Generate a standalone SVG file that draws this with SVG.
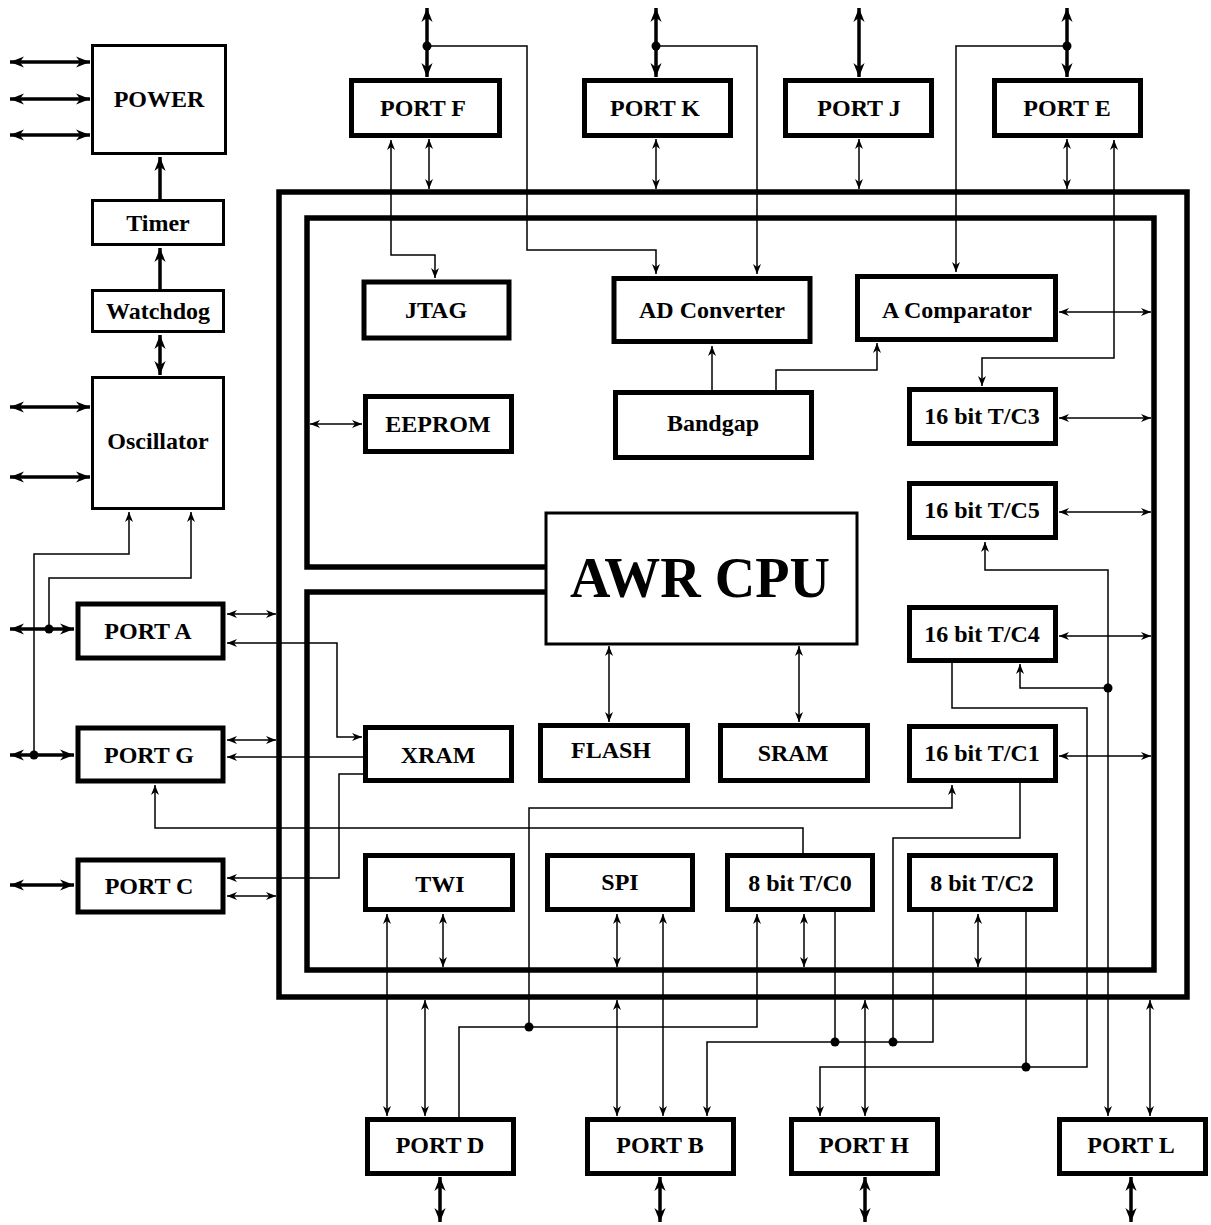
<svg xmlns="http://www.w3.org/2000/svg" width="1211" height="1225" viewBox="0 0 1211 1225">
<defs>
<style>
.bx{fill:#fff;stroke:#000;stroke-width:5}
.bt{fill:#fff;stroke:#000;stroke-width:3}
.t{font-family:"Liberation Serif","Times New Roman",serif;font-weight:bold;font-size:24px;text-anchor:middle;fill:#000}
.c{fill:none;stroke:#000;stroke-width:1.5}
.ca{fill:none;stroke:#000;stroke-width:1.5;marker-end:url(#at)}
.cb{fill:none;stroke:#000;stroke-width:1.5;marker-start:url(#at);marker-end:url(#at)}
.k{fill:none;stroke:#000;stroke-width:3.5;marker-start:url(#ak);marker-end:url(#ak)}
.ke{fill:none;stroke:#000;stroke-width:3.5;marker-end:url(#ak)}
.bus{fill:none;stroke:#000;stroke-width:5.5}
</style>
<marker id="at" viewBox="0 0 10 8" refX="10" refY="4" markerWidth="10" markerHeight="8.5" markerUnits="userSpaceOnUse" orient="auto-start-reverse"><path d="M0,0 L10,4 L0,8 L3,4 z" fill="#000"/></marker>
<marker id="ak" viewBox="0 0 10 8" refX="10" refY="4" markerWidth="14" markerHeight="12" markerUnits="userSpaceOnUse" orient="auto-start-reverse"><path d="M0,0 L10,4 L0,8 L3,4 z" fill="#000"/></marker>
</defs>
<rect width="1211" height="1225" fill="#fff"/>
<g id="buses">
<rect class="bus" x="279" y="192" width="908" height="805"/>
<path class="bus" d="M546,567 H307 V218 H1154 V970 H307 V592 H546"/>
</g>
<g id="connectors">
<line class="k" x1="10" y1="62" x2="90" y2="62"/>
<line class="k" x1="10" y1="99" x2="90" y2="99"/>
<line class="k" x1="10" y1="135" x2="90" y2="135"/>
<line class="k" x1="10" y1="407" x2="90" y2="407"/>
<line class="k" x1="10" y1="477" x2="90" y2="477"/>
<line class="ke" x1="160" y1="199" x2="160" y2="157"/>
<line class="ke" x1="160" y1="289" x2="160" y2="248"/>
<line class="k" x1="160" y1="335" x2="160" y2="375"/>
<line class="k" x1="10" y1="629" x2="74" y2="629"/>
<line class="k" x1="10" y1="755" x2="74" y2="755"/>
<line class="k" x1="10" y1="885" x2="74" y2="885"/>
<line class="k" x1="427" y1="8" x2="427" y2="77"/>
<line class="k" x1="656" y1="8" x2="656" y2="77"/>
<line class="k" x1="859" y1="8" x2="859" y2="77"/>
<line class="k" x1="1067" y1="8" x2="1067" y2="77"/>
<line class="k" x1="440" y1="1177" x2="440" y2="1222"/>
<line class="k" x1="660" y1="1177" x2="660" y2="1222"/>
<line class="k" x1="865" y1="1177" x2="865" y2="1222"/>
<line class="k" x1="1131" y1="1177" x2="1131" y2="1222"/>
<circle cx="49" cy="629" r="4.5"/>
<circle cx="34" cy="755" r="4.5"/>
<circle cx="427" cy="46" r="4.5"/>
<circle cx="656" cy="46" r="4.5"/>
<circle cx="1067" cy="46" r="4.5"/>
<path class="ca" d="M34,755 V554 H129 V512"/>
<path class="ca" d="M49,629 V578 H191 V512"/>
<line class="cb" x1="227" y1="614" x2="276" y2="614"/>
<line class="cb" x1="227" y1="740" x2="276" y2="740"/>
<line class="cb" x1="227" y1="896" x2="276" y2="896"/>
<line class="cb" x1="310" y1="424" x2="362" y2="424"/>
<line class="cb" x1="1059" y1="312" x2="1151" y2="312"/>
<line class="cb" x1="1059" y1="418" x2="1151" y2="418"/>
<line class="cb" x1="1059" y1="512" x2="1151" y2="512"/>
<line class="cb" x1="1059" y1="636" x2="1151" y2="636"/>
<line class="cb" x1="1059" y1="756" x2="1151" y2="756"/>
<line class="cb" x1="429" y1="139" x2="429" y2="189"/>
<line class="cb" x1="656" y1="139" x2="656" y2="189"/>
<line class="cb" x1="859" y1="139" x2="859" y2="189"/>
<line class="cb" x1="1067" y1="139" x2="1067" y2="189"/>
<line class="cb" x1="443" y1="914" x2="443" y2="967"/>
<line class="cb" x1="617" y1="914" x2="617" y2="967"/>
<line class="cb" x1="804" y1="914" x2="804" y2="967"/>
<line class="cb" x1="978" y1="914" x2="978" y2="967"/>
<line class="cb" x1="425" y1="1000" x2="425" y2="1116"/>
<line class="cb" x1="617" y1="1000" x2="617" y2="1116"/>
<line class="cb" x1="865" y1="1000" x2="865" y2="1116"/>
<line class="cb" x1="1150" y1="1000" x2="1150" y2="1116"/>
<line class="cb" x1="609" y1="646" x2="609" y2="722"/>
<line class="cb" x1="799" y1="646" x2="799" y2="722"/>
<path class="ca" d="M427,46 H527 V250 H656 V274"/>
<path class="ca" d="M656,46 H757 V274"/>
<path class="ca" d="M1067,46 H956 V272"/>
<path class="cb" d="M391,140 V255 H435 V278"/>
<path class="cb" d="M1114,140 V358 H982 V386"/>
<line class="ca" x1="712" y1="390" x2="712" y2="346"/>
<path class="ca" d="M776,390 V370 H877 V343"/>
<path class="cb" d="M985,542 V570 H1108 V1116"/>
<path class="ca" d="M1108,688 H1020 V664"/>
<circle cx="1108" cy="688" r="4.5"/>
<path class="ca" d="M952,662 V708 H1087 V1067 H820 V1116"/>
<line class="c" x1="1026" y1="912" x2="1026" y2="1067"/>
<circle cx="1026" cy="1067" r="4.5"/>
<path class="ca" d="M1020,783 V838 H893 V1042 H707 V1116"/>
<path class="c" d="M933,912 V1042 H893"/>
<line class="c" x1="835" y1="912" x2="835" y2="1042"/>
<circle cx="893" cy="1042" r="4.5"/>
<circle cx="835" cy="1042" r="4.5"/>
<path class="ca" d="M459,1118 V1027 H757 V914"/>
<path class="ca" d="M529,1027 V808 H952 V785"/>
<circle cx="529" cy="1027" r="4.5"/>
<path class="ca" d="M803,853 V828 H155 V785"/>
<path class="cb" d="M227,643 H337 V737 H362"/>
<line class="ca" x1="364" y1="757" x2="227" y2="757"/>
<path class="ca" d="M364,774 H339 V878 H227"/>
<line class="cb" x1="387" y1="914" x2="387" y2="1116"/>
<line class="cb" x1="663" y1="914" x2="663" y2="1116"/>
</g>
<g id="power"><rect class="bt" x="92.5" y="45.5" width="133" height="108"/><text class="t" x="159" y="107">POWER</text></g>
<g id="timer"><rect class="bt" x="92.5" y="200.5" width="131" height="44"/><text class="t" x="158" y="231">Timer</text></g>
<g id="watchdog"><rect class="bt" x="92.5" y="290.5" width="131" height="41"/><text class="t" x="158" y="319">Watchdog</text></g>
<g id="oscillator"><rect class="bt" x="92.5" y="377.5" width="131" height="131"/><text class="t" x="158" y="449">Oscillator</text></g>
<g id="portA"><rect class="bx" x="78" y="604" width="145" height="54"/><text class="t" x="148" y="639">PORT A</text></g>
<g id="portG"><rect class="bx" x="78" y="728" width="145" height="53"/><text class="t" x="149" y="763">PORT G</text></g>
<g id="portC"><rect class="bx" x="78" y="860" width="145" height="52"/><text class="t" x="149" y="894">PORT C</text></g>
<g id="portF"><rect class="bx" x="351.5" y="80.5" width="148" height="55"/><text class="t" x="423" y="116">PORT F</text></g>
<g id="portK"><rect class="bx" x="584.5" y="80.5" width="146" height="55"/><text class="t" x="655" y="116">PORT K</text></g>
<g id="portJ"><rect class="bx" x="785.5" y="80.5" width="146" height="55"/><text class="t" x="859" y="116">PORT J</text></g>
<g id="portE"><rect class="bx" x="994.5" y="80.5" width="146" height="55"/><text class="t" x="1067" y="116">PORT E</text></g>
<g id="jtag"><rect class="bx" x="364" y="282" width="145" height="56"/><text class="t" x="436" y="318">JTAG</text></g>
<g id="adc"><rect class="bx" x="614" y="278.5" width="196" height="63"/><text class="t" x="712" y="318">AD Converter</text></g>
<g id="acomp"><rect class="bx" x="857.5" y="276.5" width="198" height="63"/><text class="t" x="957" y="318">A Comparator</text></g>
<g id="eeprom"><rect class="bx" x="365.5" y="396.5" width="146" height="55"/><text class="t" x="438" y="432">EEPROM</text></g>
<g id="bandgap"><rect class="bx" x="615.5" y="392.5" width="196" height="65"/><text class="t" x="713" y="431">Bandgap</text></g>
<g id="tc3"><rect class="bx" x="909.5" y="389.5" width="146" height="54"/><text class="t" x="982" y="424">16 bit T/C3</text></g>
<g id="tc5"><rect class="bx" x="909.5" y="483.5" width="146" height="54"/><text class="t" x="982" y="518">16 bit T/C5</text></g>
<g id="tc4"><rect class="bx" x="909.5" y="607.5" width="146" height="53"/><text class="t" x="982" y="642">16 bit T/C4</text></g>
<g id="tc1"><rect class="bx" x="909.5" y="726.5" width="146" height="54"/><text class="t" x="982" y="761">16 bit T/C1</text></g>
<g id="tc2"><rect class="bx" x="909.5" y="855.5" width="146" height="54"/><text class="t" x="982" y="891">8 bit T/C2</text></g>
<g id="cpu"><rect class="bt" x="546" y="513" width="311" height="131"/><text class="t" x="700" y="597" style="font-size:56px">AWR CPU</text></g>
<g id="xram"><rect class="bx" x="365.5" y="727.5" width="146" height="53"/><text class="t" x="438" y="763">XRAM</text></g>
<g id="flash"><rect class="bx" x="540.5" y="725.5" width="147" height="55"/><text class="t" x="611" y="758">FLASH</text></g>
<g id="sram"><rect class="bx" x="720.5" y="725.5" width="147" height="55"/><text class="t" x="793" y="761">SRAM</text></g>
<g id="twi"><rect class="bx" x="365.5" y="855.5" width="147" height="54"/><text class="t" x="440" y="892">TWI</text></g>
<g id="spi"><rect class="bx" x="547.5" y="855.5" width="145" height="54"/><text class="t" x="620" y="890">SPI</text></g>
<g id="tc0"><rect class="bx" x="727.5" y="855.5" width="145" height="54"/><text class="t" x="800" y="891">8 bit T/C0</text></g>
<g id="portD"><rect class="bx" x="367.5" y="1119.5" width="146" height="54"/><text class="t" x="440" y="1153">PORT D</text></g>
<g id="portB"><rect class="bx" x="587.5" y="1119.5" width="146" height="54"/><text class="t" x="660" y="1153">PORT B</text></g>
<g id="portH"><rect class="bx" x="791.5" y="1119.5" width="146" height="54"/><text class="t" x="864" y="1153">PORT H</text></g>
<g id="portL"><rect class="bx" x="1059.5" y="1119.5" width="146" height="54"/><text class="t" x="1131" y="1153">PORT L</text></g>
</svg>
